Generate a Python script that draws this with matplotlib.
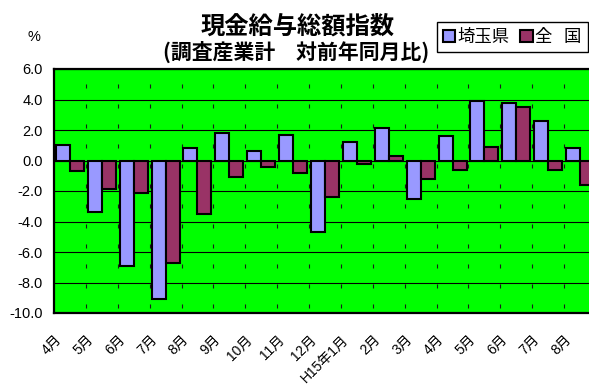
import matplotlib
matplotlib.use("Agg")
import matplotlib.pyplot as plt
import matplotlib.transforms as mtransforms
from matplotlib.font_manager import FontProperties
import numpy as np

plt.rcParams["axes.unicode_minus"] = False
plt.rcParams["lines.scale_dashes"] = False

# 月次データ（対前年同月比, %）
months = ["4月", "5月", "6月", "7月", "8月", "9月", "10月", "11月", "12月",
          "H15年1月", "2月", "3月", "4月", "5月", "6月", "7月", "8月"]
saitama = [1.0, -3.4, -6.9, -9.1, 0.8, 1.8, 0.6, 1.7, -4.7,
           1.2, 2.1, -2.5, 1.6, 3.9, 3.8, 2.6, 0.8]
national = [-0.7, -1.9, -2.1, -6.7, -3.5, -1.1, -0.4, -0.8, -2.4,
            -0.2, 0.3, -1.2, -0.6, 0.9, 3.5, -0.6, -1.6]
yticks = [-10, -8, -6, -4, -2, 0, 2, 4, 6]

W, H = 589, 385
fig = plt.figure(figsize=(W / 100, H / 100), dpi=100)
fig.patch.set_facecolor("white")

ax = fig.add_axes([54 / W, 1 - 313 / H, 542 / W, 244 / H])
ax.set_facecolor("#00FF00")

x = np.arange(len(months))
bw = 0.44
ax.bar(x - bw, saitama, bw, align="edge", color="#9999FF", edgecolor="black",
       linewidth=1.5, label="埼玉県", zorder=3)
ax.bar(x, national, bw, align="edge", color="#993366", edgecolor="black",
       linewidth=1.5, label="全   国", zorder=3)

ax.set_xlim(-0.5, len(months) - 0.5)
ax.set_ylim(-10, 6)
ax.set_axisbelow(True)

# 横の目盛線（実線）と区切りの縦線（破線）
ax.set_yticks(yticks)
ax.set_yticklabels([f"{v:.1f}" for v in yticks], fontfamily="Liberation Sans",
                   fontsize=10.5)
ax.yaxis.grid(True, color="black", linewidth=0.8, zorder=1)
ax.set_xticks(x[:-1] + 0.5, minor=True)
ax.xaxis.grid(True, which="minor", color="#1a1a1a", linewidth=0.8,
              linestyle=(10.8, (2.9, 11.5)), zorder=1)
ax.tick_params(axis="both", which="both", length=0)
ax.tick_params(axis="y", pad=8)

ax.set_xticks(x)
ax.set_xticklabels(months, rotation=45, ha="right", va="top",
                   fontfamily=["Liberation Sans", "Noto Sans CJK JP"], fontsize=10)
ax.tick_params(axis="x", pad=14)
shift = mtransforms.ScaledTranslation(-6 / 100, 0, fig.dpi_scale_trans)
for lbl in ax.get_xticklabels():
    lbl.set_transform(lbl.get_transform() + shift)

for side in ("left", "bottom", "top", "right"):
    ax.spines[side].set_linewidth(1.6)
    ax.spines[side].set_color("black")

# タイトル
fig.text(298 / W, 1 - 27 / H, "現金給与総額指数", ha="center", va="center",
         fontsize=17.5, fontweight="bold", fontfamily="Noto Sans CJK JP")
fig.text(296 / W, 1 - 52 / H, "(調査産業計\u3000対前年同月比)", ha="center",
         va="center", fontsize=15, fontweight="bold",
         fontfamily="Noto Sans CJK JP")
fig.text(34 / W, 1 - 37 / H, "%", ha="center", va="center",
         fontfamily="Liberation Sans", fontsize=10.5)

leg = fig.legend(loc="upper left", bbox_to_anchor=(437 / W, 1 - 22 / H), ncol=2,
                 frameon=True, fancybox=False, edgecolor="black", framealpha=1,
                 prop=FontProperties(family="Noto Sans CJK JP", size=12.5),
                 handlelength=0.7, handleheight=0.7, handletextpad=0.15,
                 columnspacing=0.6, borderpad=0.35, borderaxespad=0)
leg.get_frame().set_linewidth(1.0)

fig.savefig("out.png", dpi=100)
